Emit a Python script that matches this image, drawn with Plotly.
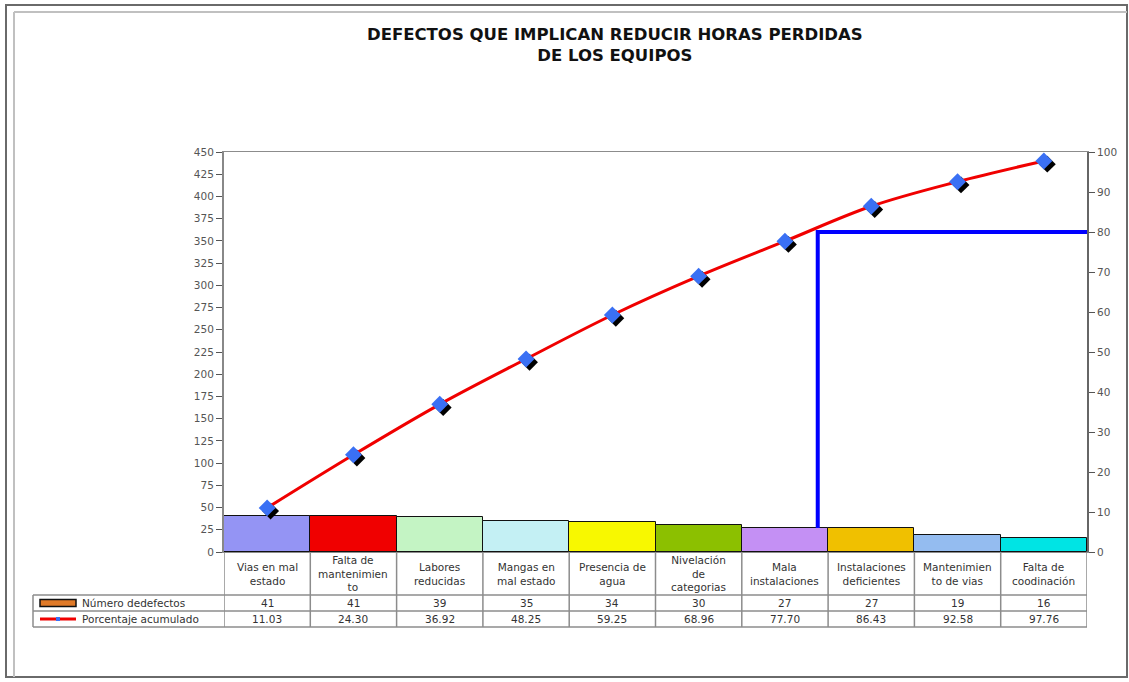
import plotly.graph_objects as go

categorias = ["Vias en mal<br>estado", "Falta de<br>mantenimien<br>to", "Labores<br>reducidas",
              "Mangas en<br>mal estado", "Presencia de<br>agua", "Nivelación<br>de<br>categorias",
              "Mala<br>instalaciones", "Instalaciones<br>deficientes", "Mantenimien<br>to de vias",
              "Falta de<br>coodinación"]
num_defectos = [41, 41, 39, 35, 34, 30, 27, 27, 19, 16]
pct_acumulado = [11.03, 24.30, 36.92, 48.25, 59.25, 68.96, 77.70, 86.43, 92.58, 97.76]
colores = ["#9494f4", "#f00000", "#c4f4c4", "#c4f0f4", "#f8f800", "#8cc000",
           "#c490f4", "#f0c000", "#94bcf0", "#00e4e4"]
corte_pct = 80
corte_x = 6.38

W, H = 1129, 682
def px(p):
    return p / W
def py(p):
    return 1 - p / H

idx = list(range(len(categorias)))
fig = go.Figure()

fig.add_trace(go.Bar(x=idx, y=num_defectos, marker=dict(color=colores, line=dict(color="#111", width=1)),
                     width=1.0, name="Número dedefectos", yaxis="y"))

# sombra de los marcadores
fig.add_trace(go.Scatter(x=[i + 0.04 for i in idx], y=[v - 0.8 for v in pct_acumulado], mode="markers",
                         marker=dict(symbol="diamond", size=13, color="black"), yaxis="y2", hoverinfo="skip"))
fig.add_trace(go.Scatter(x=idx, y=pct_acumulado, mode="lines", line=dict(color="#f00000", width=3, shape="spline"),
                         yaxis="y2", name="Porcentaje acumulado"))
fig.add_trace(go.Scatter(x=idx, y=pct_acumulado, mode="markers",
                         marker=dict(symbol="diamond", size=13, color="#3a70f4"), yaxis="y2", hoverinfo="skip"))

# linea del 80%
fig.add_trace(go.Scatter(x=[corte_x, corte_x, 9.5], y=[num_defectos[6] / 4.5, corte_pct, corte_pct], mode="lines",
                         line=dict(color="#0000ff", width=4), yaxis="y2", hoverinfo="skip"))

shapes = []
annotations = []
gris = "#8c8c8c"
top, r1, r2, r3 = 552, 595, 611, 627
# tabla
for i in range(len(categorias) + 1):
    shapes.append(dict(type="line", xref="x", yref="paper", x0=i - 0.5, x1=i - 0.5, y0=py(top), y1=py(r3),
                       line=dict(color=gris, width=1.5)))
shapes.append(dict(type="line", xref="paper", yref="paper", x0=px(33), x1=px(33), y0=py(r1), y1=py(r3),
                   line=dict(color=gris, width=1.5)))
for yy in (r1, r2, r3):
    shapes.append(dict(type="line", xref="paper", yref="paper", x0=px(33), x1=px(1087), y0=py(yy), y1=py(yy),
                       line=dict(color=gris, width=1.5)))

fuente = dict(family="DejaVu Sans", size=10.5, color="#333")
for i, c in enumerate(categorias):
    annotations.append(dict(x=i, y=py((top + r1) / 2), xref="x", yref="paper", text=c, showarrow=False,
                            font=fuente, align="center", yanchor="middle"))
    annotations.append(dict(x=i, y=py((r1 + r2) / 2), xref="x", yref="paper", text=str(num_defectos[i]),
                            showarrow=False, font=fuente, yanchor="middle"))
    annotations.append(dict(x=i, y=py((r2 + r3) / 2), xref="x", yref="paper", text="%.2f" % pct_acumulado[i],
                            showarrow=False, font=fuente, yanchor="middle"))

# simbolos de leyenda
shapes.append(dict(type="rect", xref="paper", yref="paper", x0=px(40), x1=px(76), y0=py(599.5), y1=py(606.5),
                   fillcolor="#e07a28", line=dict(color="#111", width=1.5)))
shapes.append(dict(type="line", xref="paper", yref="paper", x0=px(40), x1=px(76), y0=py(619), y1=py(619),
                   line=dict(color="#f00000", width=3)))
shapes.append(dict(type="rect", xref="paper", yref="paper", x0=px(56), x1=px(60), y0=py(617), y1=py(621),
                   fillcolor="#3a70f4", line=dict(width=0)))
annotations.append(dict(x=px(80), y=py((r1 + r2) / 2), xref="paper", yref="paper", text="Número dedefectos",
                        showarrow=False, font=fuente, xanchor="left", yanchor="middle"))
annotations.append(dict(x=px(80), y=py((r2 + r3) / 2), xref="paper", yref="paper", text="Porcentaje acumulado",
                        showarrow=False, font=fuente, xanchor="left", yanchor="middle"))

# marco exterior
shapes.append(dict(type="rect", xref="paper", yref="paper", x0=px(6), x1=px(1127), y0=py(677), y1=py(5),
                   line=dict(color="#6a6a6a", width=2)))
shapes.append(dict(type="line", xref="paper", yref="paper", x0=px(14), x1=px(1127), y0=py(12), y1=py(12),
                   line=dict(color="#c0c0c0", width=2)))
shapes.append(dict(type="line", xref="paper", yref="paper", x0=px(14), x1=px(14), y0=py(12), y1=py(677),
                   line=dict(color="#c0c0c0", width=2)))

annotations.append(dict(x=px(615), y=py(45), xref="paper", yref="paper", showarrow=False, yanchor="middle",
                        text="<b>DEFECTOS QUE IMPLICAN REDUCIR HORAS PERDIDAS<br>DE LOS EQUIPOS</b>",
                        font=dict(family="DejaVu Sans", size=16.5, color="#111"), align="center"))

tick_font = dict(family="DejaVu Sans", size=10.5, color="#555")
fig.update_layout(
    width=W, height=H, margin=dict(l=0, r=0, t=0, b=0, pad=0, autoexpand=False),
    paper_bgcolor="white", plot_bgcolor="white", showlegend=False, bargap=0,
    xaxis=dict(domain=[px(224), px(1087)], range=[-0.5, 9.5], showticklabels=False, ticks="",
               showgrid=False, zeroline=False, showline=True, mirror=True, linecolor=gris, linewidth=1,
               automargin=False),
    yaxis=dict(domain=[py(552), py(152)], range=[0, 450], dtick=25, ticks="outside", ticklen=6,
               showgrid=False, zeroline=False, showline=True, linecolor="#888", linewidth=2,
               tickfont=tick_font, tickcolor="#555", automargin=False),
    yaxis2=dict(overlaying="y", side="right", range=[0, 100], dtick=10, ticks="outside", ticklen=6,
                showgrid=False, zeroline=False, showline=True, linecolor="#666", linewidth=2,
                tickfont=tick_font, tickcolor="#555", automargin=False),
    shapes=shapes, annotations=annotations,
)

fig.write_html("out.html", config={"displayModeBar": False},
               post_script="document.body.style.margin='0';document.body.style.overflow='hidden';"
                           "document.documentElement.style.overflow='hidden';")
